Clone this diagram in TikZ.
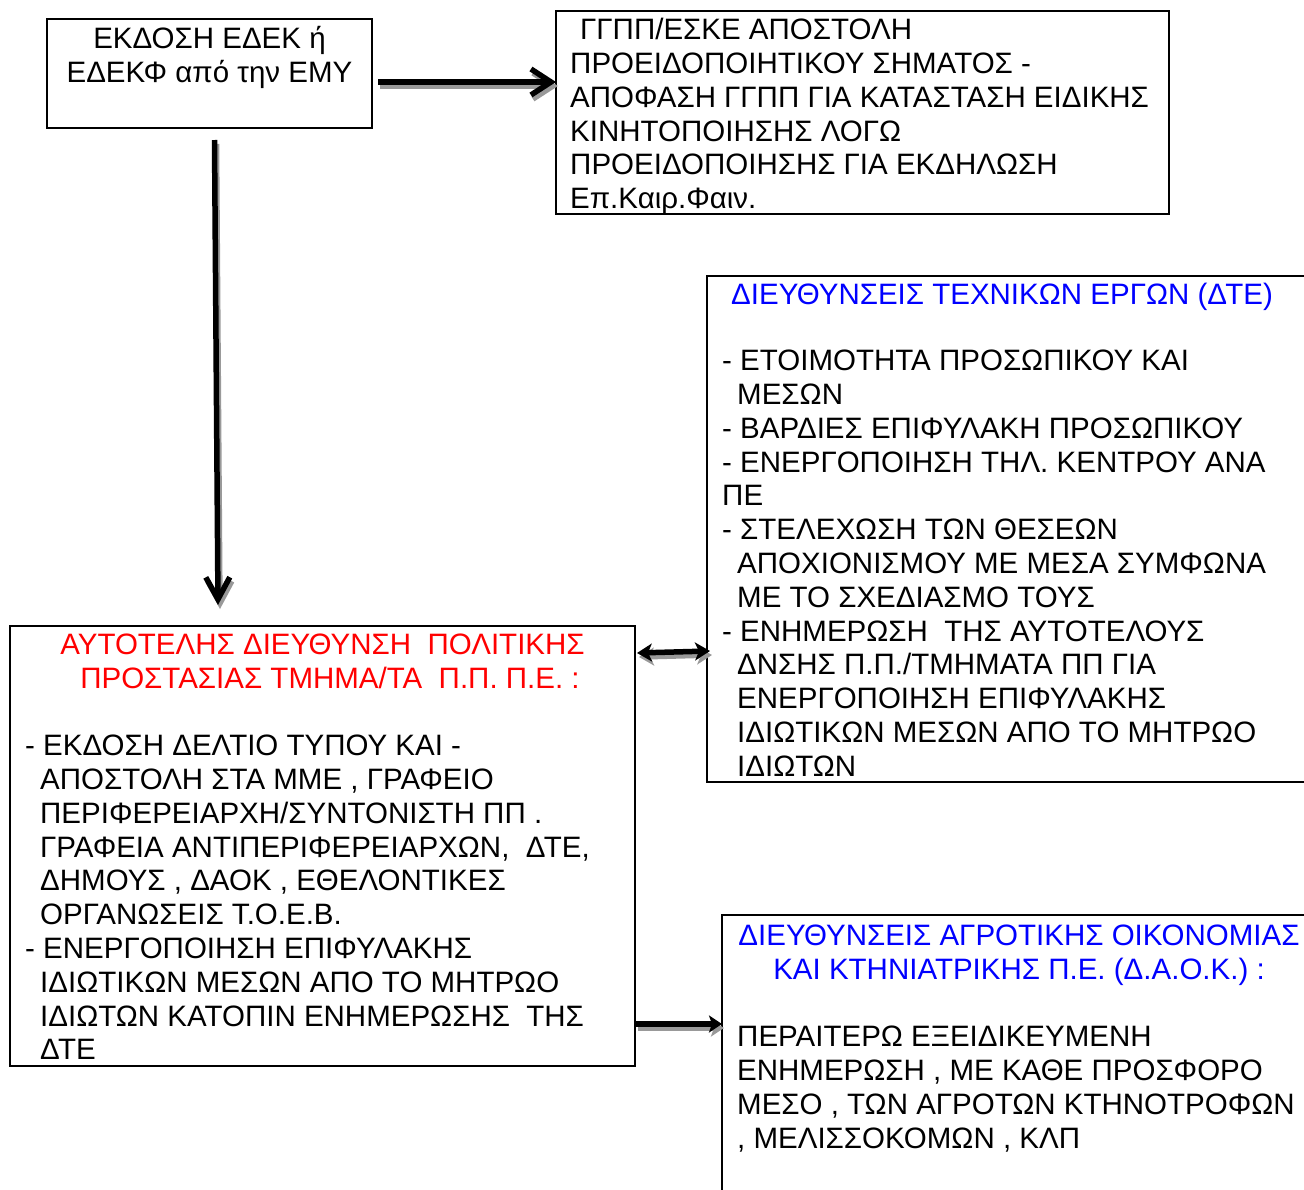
\documentclass[tikz,border=0pt]{standalone}
\usepackage{fontspec}
\setmainfont{Liberation Sans}
\usetikzlibrary{arrows.meta,calc}
\newcommand\bfs{\fontsize{29.5}{33.8}\selectfont}
\newcommand\ind{\hspace*{15pt}}
\begin{document}
\begin{tikzpicture}[x=1pt,y=-1pt,
  box/.style={draw, line width=1.8pt, anchor=north west, inner sep=0pt, outer sep=0pt},
  txt/.style={inner sep=0pt, font=\bfs, align=left, anchor=north west},
  ctxt/.style={inner sep=0pt, font=\bfs, align=center, anchor=north},
  arr/.style={line width=5.5pt, draw=black, fill=black},
  shd/.style={line width=5.5pt, draw=black!40, fill=black!40, transform canvas={xshift=2pt,yshift=-4pt}},
  barb/.style={-{Straight Barb[length=20pt,width=26pt]}},
  vtip/.style={-{Straight Barb[length=22pt,width=24pt]}},
  dtip/.style={{Stealth[length=15pt,width=18pt,inset=4pt]}-{Stealth[length=15pt,width=18pt,inset=4pt]}},
  ftip/.style={-{Stealth[length=13pt,width=17pt,inset=3pt]}}
]
\useasboundingbox (0,0) rectangle (1304,1189);
\clip (0,0) rectangle (1304,1189);

% boxes
\node[box, minimum width=325pt, minimum height=109pt] (ekdosi) at (47,19) {};
\node[box, minimum width=613pt, minimum height=203pt] (ggpp) at (556,11) {};
\node[box, minimum width=610pt, minimum height=506pt] (dte) at (707,276) {};
\node[box, minimum width=625pt, minimum height=440pt] (pp) at (10,626) {};
\node[box, minimum width=600pt, minimum height=300pt] (daok) at (722,915) {};

% texts
\node[ctxt] (t1) at (209.5,24.9) {\strut ΕΚΔΟΣΗ ΕΔΕΚ ή\\ΕΔΕΚΦ από την ΕΜΥ};
\node[txt] (t2) at (570,15.9) {\strut\hspace*{10pt}ΓΓΠΠ/ΕΣΚΕ ΑΠΟΣΤΟΛΗ\\
ΠΡΟΕΙΔΟΠΟΙΗΤΙΚΟΥ ΣΗΜΑΤΟΣ -\\
ΑΠΟΦΑΣΗ ΓΓΠΠ ΓΙΑ ΚΑΤΑΣΤΑΣΗ ΕΙΔΙΚΗΣ\\
ΚΙΝΗΤΟΠΟΙΗΣΗΣ ΛΟΓΩ\\
ΠΡΟΕΙΔΟΠΟΙΗΣΗΣ ΓΙΑ ΕΚΔΗΛΩΣΗ\\
Επ.Καιρ.Φαιν.};
\node[txt, text=blue] (t3) at (731,280.9) {\strut ΔΙΕΥΘΥΝΣΕΙΣ ΤΕΧΝΙΚΩΝ ΕΡΓΩΝ (ΔΤΕ)};
\node[txt] (t4) at (722,346.9) {\strut - ΕΤΟΙΜΟΤΗΤΑ ΠΡΟΣΩΠΙΚΟΥ ΚΑΙ\\
\ind ΜΕΣΩΝ\\
- ΒΑΡΔΙΕΣ ΕΠΙΦΥΛΑΚΗ ΠΡΟΣΩΠΙΚΟΥ\\
- ΕΝΕΡΓΟΠΟΙΗΣΗ ΤΗΛ. ΚΕΝΤΡΟΥ ΑΝΑ\\
ΠΕ\\
- ΣΤΕΛΕΧΩΣΗ ΤΩΝ ΘΕΣΕΩΝ\\
\ind ΑΠΟΧΙΟΝΙΣΜΟΥ ΜΕ ΜΕΣΑ ΣΥΜΦΩΝΑ\\
\ind ΜΕ ΤΟ ΣΧΕΔΙΑΣΜΟ ΤΟΥΣ\\
- ΕΝΗΜΕΡΩΣΗ\ \ ΤΗΣ ΑΥΤΟΤΕΛΟΥΣ\\
\ind ΔΝΣΗΣ Π.Π./ΤΜΗΜΑΤΑ ΠΠ ΓΙΑ\\
\ind ΕΝΕΡΓΟΠΟΙΗΣΗ ΕΠΙΦΥΛΑΚΗΣ\\
\ind ΙΔΙΩΤΙΚΩΝ ΜΕΣΩΝ ΑΠΟ ΤΟ ΜΗΤΡΩΟ\\
\ind ΙΔΙΩΤΩΝ};
\node[ctxt, text=red] (t5) at (322.5,630.9) {\strut ΑΥΤΟΤΕΛΗΣ ΔΙΕΥΘΥΝΣΗ\ \ ΠΟΛΙΤΙΚΗΣ\\
\hspace*{15pt}ΠΡΟΣΤΑΣΙΑΣ ΤΜΗΜΑ/ΤΑ\ \ Π.Π. Π.Ε. :};
\node[txt] (t6) at (25,731.9) {\strut - ΕΚΔΟΣΗ ΔΕΛΤΙΟ ΤΥΠΟΥ ΚΑΙ -\\
\ind ΑΠΟΣΤΟΛΗ ΣΤΑ ΜΜΕ , ΓΡΑΦΕΙΟ\\
\ind ΠΕΡΙΦΕΡΕΙΑΡΧΗ/ΣΥΝΤΟΝΙΣΤΗ ΠΠ .\\
\ind ΓΡΑΦΕΙΑ ΑΝΤΙΠΕΡΙΦΕΡΕΙΑΡΧΩΝ,\ \ ΔΤΕ,\\
\ind ΔΗΜΟΥΣ , ΔΑΟΚ , ΕΘΕΛΟΝΤΙΚΕΣ\\
\ind ΟΡΓΑΝΩΣΕΙΣ Τ.Ο.Ε.Β.\\
- ΕΝΕΡΓΟΠΟΙΗΣΗ ΕΠΙΦΥΛΑΚΗΣ\\
\ind ΙΔΙΩΤΙΚΩΝ ΜΕΣΩΝ ΑΠΟ ΤΟ ΜΗΤΡΩΟ\\
\ind ΙΔΙΩΤΩΝ ΚΑΤΟΠΙΝ ΕΝΗΜΕΡΩΣΗΣ\ \ ΤΗΣ\\
\ind ΔΤΕ};
\node[ctxt, text=blue] (t7) at (1019,921.9) {\strut ΔΙΕΥΘΥΝΣΕΙΣ ΑΓΡΟΤΙΚΗΣ ΟΙΚΟΝΟΜΙΑΣ\\
ΚΑΙ ΚΤΗΝΙΑΤΡΙΚΗΣ Π.Ε. (Δ.Α.Ο.Κ.) :};
\node[txt] (t8) at (737,1022.9) {\strut ΠΕΡΑΙΤΕΡΩ ΕΞΕΙΔΙΚΕΥΜΕΝΗ\\
ΕΝΗΜΕΡΩΣΗ , ΜΕ ΚΑΘΕ ΠΡΟΣΦΟΡΟ\\
ΜΕΣΟ , ΤΩΝ ΑΓΡΟΤΩΝ ΚΤΗΝΟΤΡΟΦΩΝ\\
, ΜΕΛΙΣΣΟΚΟΜΩΝ , ΚΛΠ};

% shadows
\draw[shd, barb] ($(ekdosi.east)+(6,8.5)$) -- ($(ggpp.west)+(0,-30.5)$);
\draw[shd, vtip] ($(ekdosi.south)+(5,12)$) -- ($(pp.north)+(-104.5,-21)$);
\draw[shd, dtip] ($(pp.north east)+(2,27)$) -- ($(dte.south west)+(3,-131)$);
\draw[shd, ftip] ($(pp.south east)+(1,-42)$) -- ($(daok.north west)+(0,109)$);
% connectors
\draw[arr, barb] ($(ekdosi.east)+(6,8.5)$) -- ($(ggpp.west)+(0,-30.5)$);
\draw[arr, vtip] ($(ekdosi.south)+(5,12)$) -- ($(pp.north)+(-104.5,-21)$);
\draw[arr, dtip] ($(pp.north east)+(2,27)$) -- ($(dte.south west)+(3,-131)$);
\draw[arr, ftip] ($(pp.south east)+(1,-42)$) -- ($(daok.north west)+(0,109)$);
\end{tikzpicture}
\end{document}
